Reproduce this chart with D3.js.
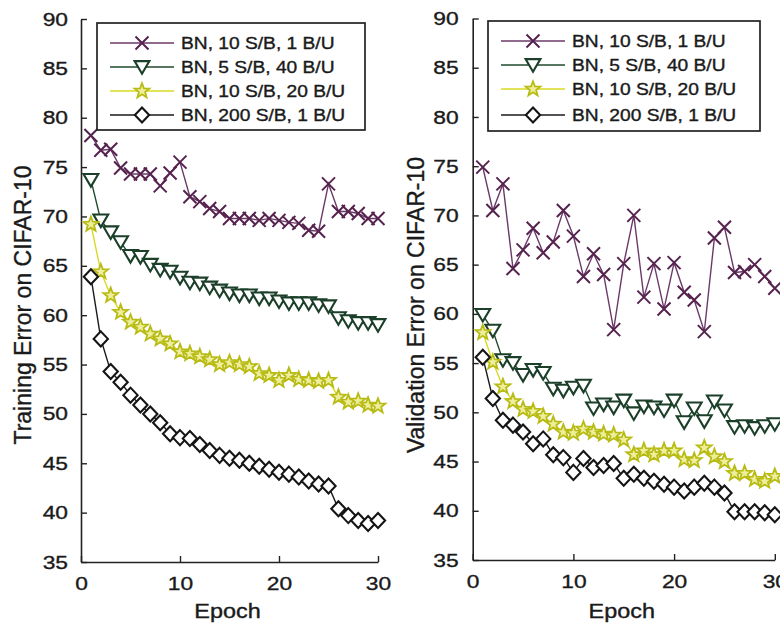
<!DOCTYPE html>
<html>
<head>
<meta charset="utf-8">
<script src="https://cdn.jsdelivr.net/npm/d3@7"></script>
<style>
  body { margin: 0; background: #fff; }
  svg { display: block; font-family: "Liberation Sans", Arial, sans-serif; }
  svg text { fill: #1a1a1a; stroke: #1a1a1a; stroke-width: 0.35px; }
</style>
</head>
<body>
<div id="chart"></div>
<script>
// epochs and labels
const epochs = [1,2,3,4,5,6,7,8,9,10,11,12,13,14,15,16,17,18,19,20,21,22,23,24,25,26,27,28,29,30];
const seriesNames = ["BN, 10 S/B, 1 B/U", "BN, 5 S/B, 40 B/U", "BN, 10 S/B, 20 B/U", "BN, 200 S/B, 1 B/U"];
const yTicks = [35,40,45,50,55,60,65,70,75,80,85,90];
const xTicks = [0,10,20,30];

// training error (left panel)
const trainA = [78.2,76.7,76.8,74.9,74.3,74.3,74.3,73.1,74.4,75.5,72.0,71.5,70.8,70.5,69.8,69.8,69.8,69.6,69.8,69.6,69.4,69.3,68.6,68.5,73.3,70.5,70.5,70.3,69.8,69.8];
const trainB = [73.7,69.6,68.4,67.4,66.0,65.9,65.1,64.6,64.4,63.8,63.3,63.2,62.8,62.5,62.2,62.0,62.0,61.7,61.7,61.4,61.2,61.2,61.2,61.0,60.9,59.7,59.4,59.2,59.2,59.0];
const trainC = [69.2,64.4,62.0,60.3,59.3,58.8,58.1,57.6,57.1,56.3,56.1,55.8,55.5,55.0,55.2,55.0,54.8,54.1,53.9,53.4,53.9,53.5,53.4,53.3,53.4,51.7,51.2,51.3,50.9,50.8];
const trainD = [63.9,57.6,54.3,53.2,51.9,50.9,50.0,49.1,48.0,47.6,47.5,46.9,46.3,45.8,45.5,45.3,45.0,44.7,44.4,44.1,43.9,43.6,43.2,42.9,42.7,40.4,39.7,39.2,38.9,39.2];

// validation error (right panel)
const valA = [74.9,70.5,73.2,64.6,66.5,68.7,66.2,67.3,70.5,67.9,63.8,66.1,64.0,58.4,65.1,70.0,61.7,65.1,60.5,65.2,62.2,61.4,58.2,67.7,68.8,64.2,64.3,65.0,63.8,62.6];
const valB = [59.9,58.3,55.3,55.0,53.8,54.3,54.0,52.4,52.2,52.5,52.7,50.4,50.8,50.5,51.2,49.9,50.6,50.5,50.2,51.2,49.0,50.4,49.1,51.1,50.2,48.5,48.6,48.4,48.6,48.8];
const valC = [58.1,55.1,52.6,51.1,50.3,50.1,49.6,48.8,48.0,47.9,48.3,48.0,47.8,47.7,47.2,45.7,46.1,45.7,46.1,46.1,45.2,45.1,46.4,45.5,45.0,43.8,43.8,43.2,43.0,43.5];
const valD = [55.6,51.4,49.2,48.7,48.0,46.8,47.3,45.7,45.4,43.9,45.3,44.4,44.6,44.8,43.3,43.7,43.3,43.0,42.7,42.4,42.0,42.4,42.8,42.4,41.8,39.9,39.9,39.9,39.8,39.6];

const W = 780, H = 627;
const SX = 1.2; // horizontal text stretch seen in the scan

// marker shapes, size = half width
const symX = { draw(c, r) { c.moveTo(-r,-r); c.lineTo(r,r); c.moveTo(-r,r); c.lineTo(r,-r); } };
const symTriDown = { draw(c, r) { c.moveTo(-r,-r*0.8); c.lineTo(r,-r*0.8); c.lineTo(0,r*0.9); c.closePath(); } };
const symDiamond = { draw(c, r) { c.moveTo(0,-r); c.lineTo(r*0.95,0); c.lineTo(0,r); c.lineTo(-r*0.95,0); c.closePath(); } };
const symStar = { draw(c, r) {
  for (let i = 0; i < 10; i++) {
    let a = -Math.PI/2 + i*Math.PI/5, rr = i%2 ? r*0.42 : r;
    if (i === 0) c.moveTo(rr*Math.cos(a), rr*Math.sin(a)); else c.lineTo(rr*Math.cos(a), rr*Math.sin(a));
  }
  c.closePath();
} };

const styles = [
  {line: "#6b3a69", stroke: "#56234f", fill: "none", sym: symX, r: 6.5, sw: 2},
  {line: "#1f4a2f", stroke: "#1b3f28", fill: "#fff", sym: symTriDown, r: 7.4, sw: 2.1},
  {line: "#d8da22", stroke: "#b8bb14", fill: "#eeef9c", sym: symStar, r: 7.8, sw: 1.8},
  {line: "#1a1a1a", stroke: "#151515", fill: "#fff", sym: symDiamond, r: 7.5, sw: 2.1}
];

const svg = d3.select("#chart").append("svg").attr("width", W).attr("height", H);
svg.append("rect").attr("width", W).attr("height", H).attr("fill", "#fff");

function drawPanel(cfg, data) {
  let x = d3.scaleLinear().domain([0,30]).range([cfg.x0, cfg.x1]);
  let y = d3.scaleLinear().domain([35,90]).range([cfg.yBot, cfg.yTop]);
  let g = svg.append("g");

  // axes, ticks point inward
  let ya = g.append("g").attr("transform", "translate(" + cfg.x0 + ",0)")
    .call(d3.axisLeft(y).tickValues(yTicks).tickSizeInner(-6).tickSizeOuter(0).tickPadding(cfg.yPad));
  let xa = g.append("g").attr("transform", "translate(0," + cfg.yBot + ")")
    .call(d3.axisBottom(x).tickValues(xTicks).tickSizeInner(-6).tickSizeOuter(0).tickPadding(15));
  [ya, xa].forEach(a => {
    a.select(".domain").attr("stroke", "#222").attr("stroke-width", 1.6);
    a.selectAll(".tick line").attr("stroke", "#222").attr("stroke-width", 1.4);
    a.selectAll(".tick text").attr("font-size", 19);
  });
  ya.selectAll(".tick text").attr("x", 0).attr("transform", "translate(" + (-cfg.yPad) + ",0) scale(" + SX + ",1)");
  xa.selectAll(".tick text").attr("y", 0).attr("transform", "translate(0,15) scale(" + SX + ",1)");

  // axis titles
  g.append("text")
    .attr("transform", "translate(" + ((cfg.x0 + cfg.x1)/2 + cfg.epochShift) + ",618) scale(" + SX + ",1)")
    .attr("text-anchor", "middle").attr("font-size", 19.5)
    .text("Epoch");
  g.append("text")
    .attr("transform", "translate(" + cfg.titleX + ",305) rotate(-90)")
    .attr("text-anchor", "middle").attr("font-size", 23)
    .text(cfg.title);

  // series
  let line = d3.line().x((d, i) => x(epochs[i])).y(d => y(d));
  data.forEach((vals, s) => {
    let st = styles[s];
    g.append("path").datum(vals)
      .attr("d", line).attr("fill", "none")
      .attr("stroke", st.line).attr("stroke-width", 1.4);
    g.selectAll(null).data(vals).enter().append("path")
      .attr("transform", (d, i) => "translate(" + x(epochs[i]) + "," + y(d) + ")")
      .attr("d", d3.symbol().type(st.sym).size(st.r))
      .attr("fill", st.fill).attr("stroke", st.stroke).attr("stroke-width", st.sw);
  });

  // legend
  let L = cfg.legend;
  let lg = g.append("g");
  lg.append("rect").attr("x", L.x).attr("y", L.y).attr("width", L.w).attr("height", L.h)
    .attr("fill", "#fff").attr("stroke", "#222").attr("stroke-width", 1.7);
  seriesNames.forEach((name, s) => {
    let st = styles[s], ry = L.rows[s];
    lg.append("line").attr("x1", L.x + 13).attr("x2", L.x + 77).attr("y1", ry).attr("y2", ry)
      .attr("stroke", st.line).attr("stroke-width", 1.4);
    lg.append("path").attr("transform", "translate(" + (L.x + 45) + "," + ry + ")")
      .attr("d", d3.symbol().type(st.sym).size(st.r))
      .attr("fill", st.fill).attr("stroke", st.stroke).attr("stroke-width", st.sw);
    lg.append("text")
      .attr("transform", "translate(" + (L.x + 84) + "," + ry + ") scale(" + SX + ",1)")
      .attr("dy", "0.36em").attr("font-size", 16)
      .text(name);
  });
}

drawPanel({
  x0: 81, x1: 378, yTop: 19, yBot: 562, yPad: 13, epochShift: -2,
  title: "Training Error on CIFAR-10", titleX: 31,
  legend: {x: 97, y: 23, w: 268, h: 107, rows: [43, 67, 91, 115]}
}, [trainA, trainB, trainC, trainD]);

drawPanel({
  x0: 472.7, x1: 774.8, yTop: 18.5, yBot: 560, yPad: 14, epochShift: -2,
  title: "Validation Error on CIFAR-10", titleX: 424,
  legend: {x: 488, y: 21, w: 272, h: 110, rows: [41, 65, 89, 115]}
}, [valA, valB, valC, valD]);
</script>
</body>
</html>
